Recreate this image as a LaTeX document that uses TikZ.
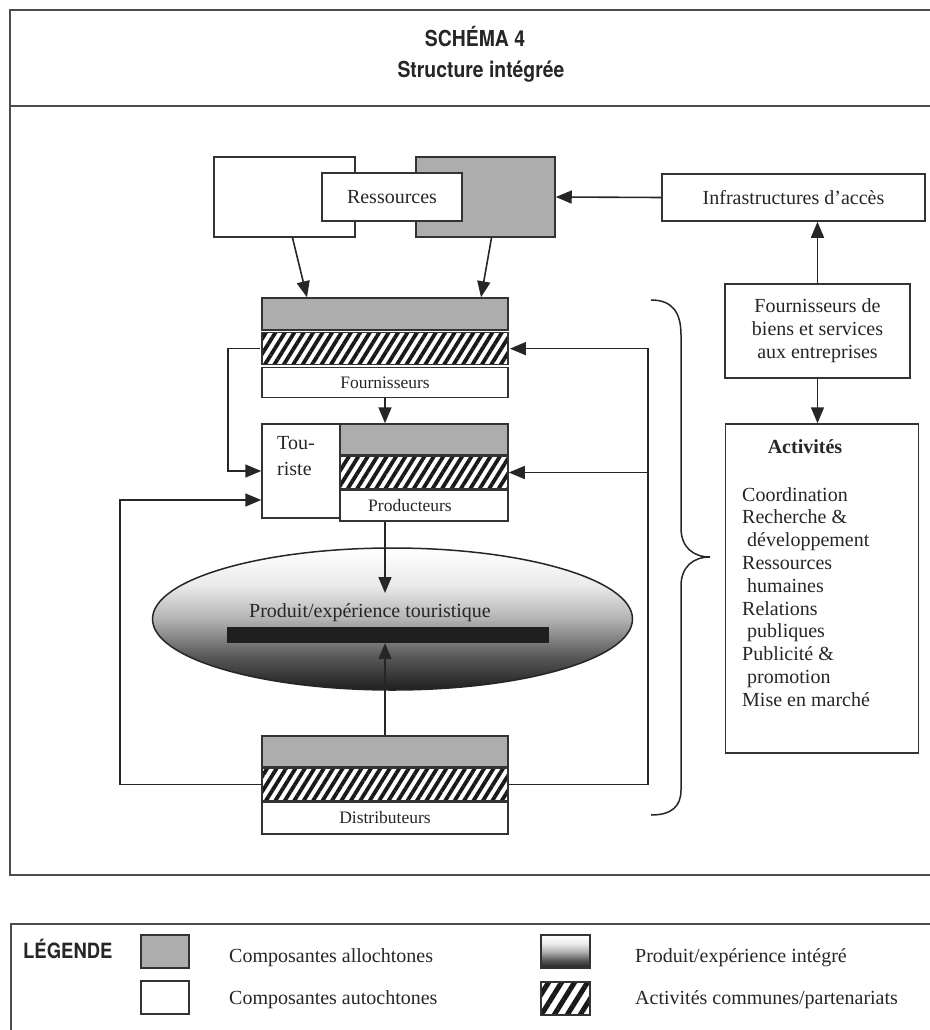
\documentclass[tikz,border=0pt]{standalone}
\usepackage{fontspec}
\setmainfont{Liberation Serif}
\newfontfamily\headfont[FakeStretch=0.88]{TeX Gyre Heros}
\usetikzlibrary{arrows.meta,shapes.geometric,patterns.meta,positioning}

\pgfdeclareverticalshading{prodshade}{100bp}{color(0bp)=(black!88); color(25bp)=(black!88); color(37bp)=(black!65); color(50bp)=(black!30); color(62bp)=(black!8); color(75bp)=(white); color(100bp)=(white)}

\begin{document}
\begin{tikzpicture}[
    x=1pt, y=-1pt,
    every node/.style={inner sep=0pt, text=black!85},
    frame/.style={draw=black!70, line width=2pt},
    box/.style={draw=black!80, line width=1.5pt, fill=white},
    allo/.style={draw=black!80, line width=1.5pt, fill=black!32},
    hatch/.style={draw=black!80, line width=1.5pt, pattern={Lines[angle=58,distance=8pt,line width=3.8pt]}, pattern color=black!90},
    link/.style={-{Triangle[length=16pt,width=13pt]}, line width=1.6pt, draw=black!85},
    txt/.style={font=\fontsize{20}{23}\selectfont},
    small/.style={font=\fontsize{17.5}{20}\selectfont},
    head/.style={font=\headfont\bfseries\fontsize{22}{26}\selectfont}
]
    \useasboundingbox (0,0) rectangle (929,1030);

    % Frames and title
    \draw[frame] (10,10) rectangle (945,875);
    \draw[frame] (10,106) -- (945,106);
    \draw[frame] (11,924) rectangle (945,1045);
    \node[head, anchor=base] (title) at (475,47) {SCHÉMA 4};
    \node[head, anchor=base] (subtitle) at (481,78) {Structure intégrée};

    % Ressources
    \node[box, minimum width=141, minimum height=80] (resw) at (284.5,197) {};
    \node[allo, minimum width=139, minimum height=80] (resg) at (485.5,197) {};
    \node[box, txt, minimum width=140, minimum height=48] (res) at (392,197) {Ressources};
    \node[box, txt, minimum width=263, minimum height=47] (infra) at (793.5,197.5) {Infrastructures d’accès};

    % Fournisseurs
    \node[allo, minimum width=246, minimum height=32] (fg) at (385,314) {};
    \node[hatch, minimum width=246, minimum height=32, below=0pt of fg] (fh) {};
    \node[box, small, minimum width=246, minimum height=30, below=0pt of fh] (fw) {Fournisseurs};

    % Producteurs
    \node[box, minimum width=78, minimum height=94] (tour) at (301,471) {};
    \node[txt, align=left, anchor=north west] (tourtxt) at (277,436) {Tou-\\[3.5pt]riste};
    \node[allo, minimum width=168, minimum height=31] (pg) at (424,439.5) {};
    \node[hatch, minimum width=168, minimum height=32, below=0pt of pg] (ph) {};
    \node[box, small, minimum width=168, minimum height=31, below=0pt of ph] (pw) {\hspace*{-28pt}Producteurs};

    % Produit
    \node[ellipse, draw=black!85, line width=1.5pt, shade, shading=prodshade, minimum width=480, minimum height=142] (prod) at (392.5,619) {};
    \node[fill=black!88, minimum width=322, minimum height=16] (bar) at (388,635) {};
    \node[txt] (prodtxt) at (370,613) {Produit/expérience touristique};

    % Distributeurs
    \node[allo, minimum width=246, minimum height=31] (dg) at (385,751.5) {};
    \node[hatch, minimum width=246, minimum height=32, below=0pt of dg] (dh) {};
    \node[box, small, minimum width=246, minimum height=32, below=0pt of dh] (dw) {Distributeurs};

    % Activites
    \node[box, txt, align=center, minimum width=185, minimum height=94] (biens) at (817.5,331) {Fournisseurs de\\biens et services\\aux entreprises};
    \node[box, minimum width=193, minimum height=329] (act) at (822,588.5) {};
    \node[font=\fontsize{20}{23}\selectfont\bfseries] (acttitle) at (805,447) {Activités};
    \node[font=\fontsize{20}{22.8}\selectfont, align=left, anchor=north west] (actlist) at (742,487) {Coordination\\Recherche \&\\\hspace*{5pt}développement\\Ressources\\\hspace*{5pt}humaines\\Relations\\\hspace*{5pt}publiques\\Publicité \&\\\hspace*{5pt}promotion\\Mise en marché};

    % Brace
    \draw[line width=1.5pt, black!85] (651,300) .. controls (672,300) and (681,312) .. (681,335) -- (681,528) .. controls (681,547) and (693,557) .. (710,557) .. controls (693,557) and (681,567) .. (681,586) -- (681,790) .. controls (681,806) and (672,815) .. (651,815);

    % Links
    \draw[link] ([xshift=8pt]resw.south) -- ([xshift=-78pt]fg.north);
    \draw[link] ([xshift=6pt]resg.south) -- ([xshift=96pt]fg.north);
    \draw[link] (infra.west) -- (resg.east);
    \draw[link] (biens.north) -- (biens.north |- infra.south);
    \draw[link] (biens.south) -- (biens.south |- act.north);
    \draw[link] (fw.south) -- (fw.south |- pg.north);
    \draw[link] (fh.west) -- ++(-32,0) |- (tour.west);
    \draw[link] (dh.west) -- ++(-141,0) |- ([yshift=-29pt]tour.west);
    \draw[link] (dh.east) -- ++(139,0) coordinate (rloop) |- (fh.east);
    \draw[link] (rloop |- ph.east) -- (ph.east);
    \draw[link] (pw.south -| fw.south) -- ([yshift=26pt]prod.center -| fw.south);
    \draw[link] (dg.north) -- (dg.north |- bar.south);

    % Legende
    \node[head, font=\headfont\bfseries\fontsize{21}{25}\selectfont, anchor=base west] (legend) at (23,958) {LÉGENDE};
    \node[allo, minimum width=48, minimum height=33] (kallo) at (165,951.5) {};
    \node[box, minimum width=48, minimum height=33] (kauto) at (165,997.5) {};
    \node[draw=black!80, line width=1.5pt, shade, shading=prodshade, minimum width=49, minimum height=33] (kprod) at (565.5,951.5) {};
    \node[draw=black!80, line width=1.5pt, pattern={Lines[angle=58,distance=11pt,line width=5pt]}, pattern color=black!90, minimum width=49, minimum height=33] (kpart) at (565.5,998.5) {};
    \node[txt, anchor=west] (tallo) at (229,958) {Composantes allochtones};
    \node[txt, anchor=west] (tauto) at (229,1000) {Composantes autochtones};
    \node[txt, anchor=west] (tprod) at (635,958) {Produit/expérience intégré};
    \node[txt, anchor=west] (tpart) at (635,1000) {Activités communes/partenariats};
\end{tikzpicture}
\end{document}
